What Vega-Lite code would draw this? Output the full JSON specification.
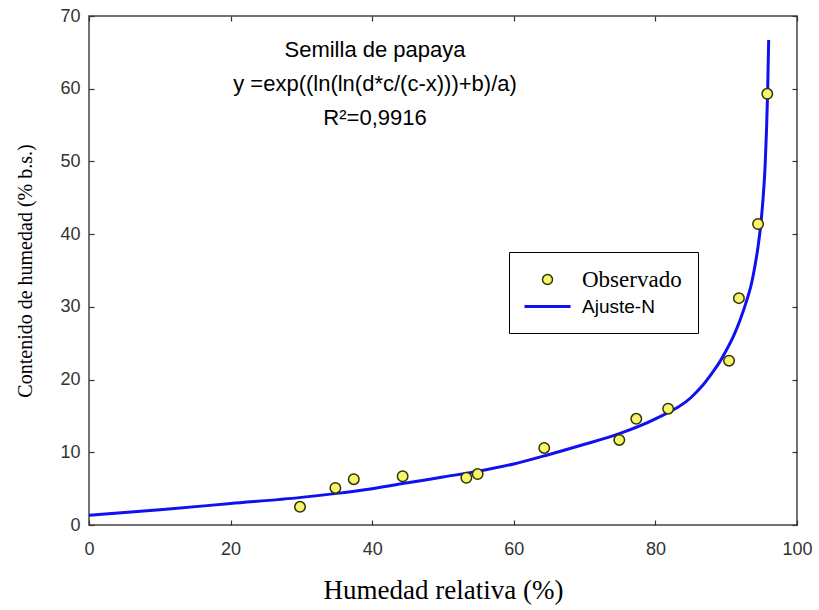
{
  "$schema": "https://vega.github.io/schema/vega-lite/v6.json",
  "width": 708,
  "height": 509,
  "autosize": "none",
  "padding": {"left": 89, "top": 16, "right": 22, "bottom": 85},
  "background": "white",
  "config": {
    "view": {"stroke": "#444444", "strokeWidth": 1.5},
    "axis": {
      "domain": false,
      "labelFont": "Liberation Sans",
      "labelFontSize": 18,
      "labelColor": "#333333",
      "labelFlush": false,
      "tickColor": "#333333",
      "tickSize": -5,
      "tickWidth": 1.2,
      "titleFont": "Liberation Serif",
      "titleFontSize": 22,
      "titleFontWeight": "normal",
      "titleColor": "#000000",
      "gridColor": "#c4c4c4",
      "gridDash": [2, 3],
      "gridWidth": 1
    }
  },
  "title": {
    "text": ["Semilla de papaya", "y =exp((ln(ln(d*c/(c-x)))+b)/a)", "R²=0,9916"],
    "font": "Liberation Sans",
    "fontSize": 22,
    "fontWeight": "normal",
    "color": "#000000",
    "lineHeight": 34,
    "anchor": "middle",
    "frame": "group",
    "baseline": "top",
    "dx": -68,
    "offset": -123
  },
  "datasets": {
    "obs": [
      {"hr": 29.8, "mc": 2.5, "serie": "Observado"},
      {"hr": 34.8, "mc": 5.1, "serie": "Observado"},
      {"hr": 37.4, "mc": 6.3, "serie": "Observado"},
      {"hr": 44.3, "mc": 6.7, "serie": "Observado"},
      {"hr": 53.3, "mc": 6.5, "serie": "Observado"},
      {"hr": 54.9, "mc": 7.0, "serie": "Observado"},
      {"hr": 64.3, "mc": 10.6, "serie": "Observado"},
      {"hr": 74.9, "mc": 11.7, "serie": "Observado"},
      {"hr": 77.3, "mc": 14.6, "serie": "Observado"},
      {"hr": 81.8, "mc": 16.0, "serie": "Observado"},
      {"hr": 90.4, "mc": 22.6, "serie": "Observado"},
      {"hr": 91.8, "mc": 31.2, "serie": "Observado"},
      {"hr": 94.5, "mc": 41.4, "serie": "Observado"},
      {"hr": 95.8, "mc": 59.3, "serie": "Observado"}
    ],
    "fit": [
      {"hr": 0, "mc": 1.35, "serie": "Ajuste-N"},
      {"hr": 10, "mc": 2.1, "serie": "Ajuste-N"},
      {"hr": 20, "mc": 2.95, "serie": "Ajuste-N"},
      {"hr": 30, "mc": 3.8, "serie": "Ajuste-N"},
      {"hr": 35, "mc": 4.35, "serie": "Ajuste-N"},
      {"hr": 40, "mc": 5.0, "serie": "Ajuste-N"},
      {"hr": 45, "mc": 5.8, "serie": "Ajuste-N"},
      {"hr": 50, "mc": 6.6, "serie": "Ajuste-N"},
      {"hr": 55, "mc": 7.4, "serie": "Ajuste-N"},
      {"hr": 60, "mc": 8.4, "serie": "Ajuste-N"},
      {"hr": 65, "mc": 9.7, "serie": "Ajuste-N"},
      {"hr": 70, "mc": 11.1, "serie": "Ajuste-N"},
      {"hr": 75, "mc": 12.6, "serie": "Ajuste-N"},
      {"hr": 80, "mc": 14.6, "serie": "Ajuste-N"},
      {"hr": 85, "mc": 17.5, "serie": "Ajuste-N"},
      {"hr": 86.5, "mc": 19.0, "serie": "Ajuste-N"},
      {"hr": 88, "mc": 20.9, "serie": "Ajuste-N"},
      {"hr": 89, "mc": 22.3, "serie": "Ajuste-N"},
      {"hr": 90, "mc": 24.0, "serie": "Ajuste-N"},
      {"hr": 91, "mc": 25.9, "serie": "Ajuste-N"},
      {"hr": 92, "mc": 28.3, "serie": "Ajuste-N"},
      {"hr": 93, "mc": 31.2, "serie": "Ajuste-N"},
      {"hr": 93.5, "mc": 32.9, "serie": "Ajuste-N"},
      {"hr": 94, "mc": 35.3, "serie": "Ajuste-N"},
      {"hr": 94.5, "mc": 38.3, "serie": "Ajuste-N"},
      {"hr": 94.9, "mc": 41.5, "serie": "Ajuste-N"},
      {"hr": 95.2, "mc": 44.8, "serie": "Ajuste-N"},
      {"hr": 95.5, "mc": 49.5, "serie": "Ajuste-N"},
      {"hr": 95.7, "mc": 54.5, "serie": "Ajuste-N"},
      {"hr": 95.85, "mc": 59.5, "serie": "Ajuste-N"},
      {"hr": 96.0, "mc": 66.7, "serie": "Ajuste-N"}
    ]
  },
  "resolve": {"axis": {"x": "independent", "y": "independent"}},
  "layer": [
    {
      "data": {"name": "fit"},
      "mark": {"type": "line", "strokeWidth": 3, "interpolate": "monotone"},
      "encoding": {
        "x": {"field": "hr", "type": "quantitative",
              "scale": {"domain": [0, 100], "nice": false, "zero": false},
              "axis": {"orient": "top", "labels": false, "title": null, "grid": false, "values": [0, 20, 40, 60, 80, 100]}},
        "y": {"field": "mc", "type": "quantitative",
              "scale": {"domain": [0, 70], "nice": false, "zero": false},
              "axis": {"orient": "right", "labels": false, "title": null, "grid": false, "values": [0, 10, 20, 30, 40, 50, 60, 70]}},
        "stroke": {"field": "serie", "type": "nominal",
                  "scale": {"domain": ["Observado", "Ajuste-N"], "range": ["#333300", "#1010f0"]},
                  "legend": {
                    "orient": "none",
                    "legendX": 420,
                    "legendY": 236,
                    "title": null,
                    "strokeColor": "#000000",
                    "fillColor": "#ffffff",
                    "padding": 16,
                    "rowPadding": 3,
                    "symbolSize": 2116,
                    "symbolOffset": 11,
                    "labelOffset": 23,
                    "labelColor": "#000000",
                    "symbolFillColor": "#f5f56e",
                    "symbolStrokeWidth": 1.5,
                    "encode": {
                      "symbols": {"update": {
                        "shape": {"signal": "datum.label === 'Ajuste-N' ? 'stroke' : 'circle'"},
                        "size": {"signal": "datum.label === 'Ajuste-N' ? 2116 : 100"},
                        "strokeWidth": {"signal": "datum.label === 'Ajuste-N' ? 3 : 1.5"},
                        "fill": {"signal": "datum.label === 'Ajuste-N' ? 'transparent' : '#f5f56e'"},
                        "opacity": {"value": 1},
                        "strokeOpacity": {"value": 1},
                        "fillOpacity": {"value": 1}
                      }},
                      "labels": {"update": {
                        "font": {"signal": "datum.label === 'Ajuste-N' ? 'Liberation Sans' : 'Liberation Serif'"},
                        "fontSize": {"signal": "datum.label === 'Ajuste-N' ? 19 : 23"}
                      }}
                    }
                  }}
      }
    },
    {
      "data": {"name": "obs"},
      "mark": {"type": "point", "filled": true, "fill": "#f5f56e", "size": 110, "strokeWidth": 1.5, "opacity": 1, "fillOpacity": 1, "strokeOpacity": 1},
      "encoding": {
        "x": {"field": "hr", "type": "quantitative",
              "axis": {"orient": "bottom", "title": "Humedad relativa (%)", "titleFontSize": 27, "values": [0, 20, 40, 60, 80, 100], "labelPadding": 20, "titlePadding": 19}},
        "y": {"field": "mc", "type": "quantitative",
              "axis": {"orient": "left", "title": "Contenido de humedad (% b.s.)", "titleFontSize": 20, "values": [0, 10, 20, 30, 40, 50, 60, 70], "labelPadding": 14, "titlePadding": 24}},
        "stroke": {"field": "serie", "type": "nominal"}
      }
    }
  ]
}
